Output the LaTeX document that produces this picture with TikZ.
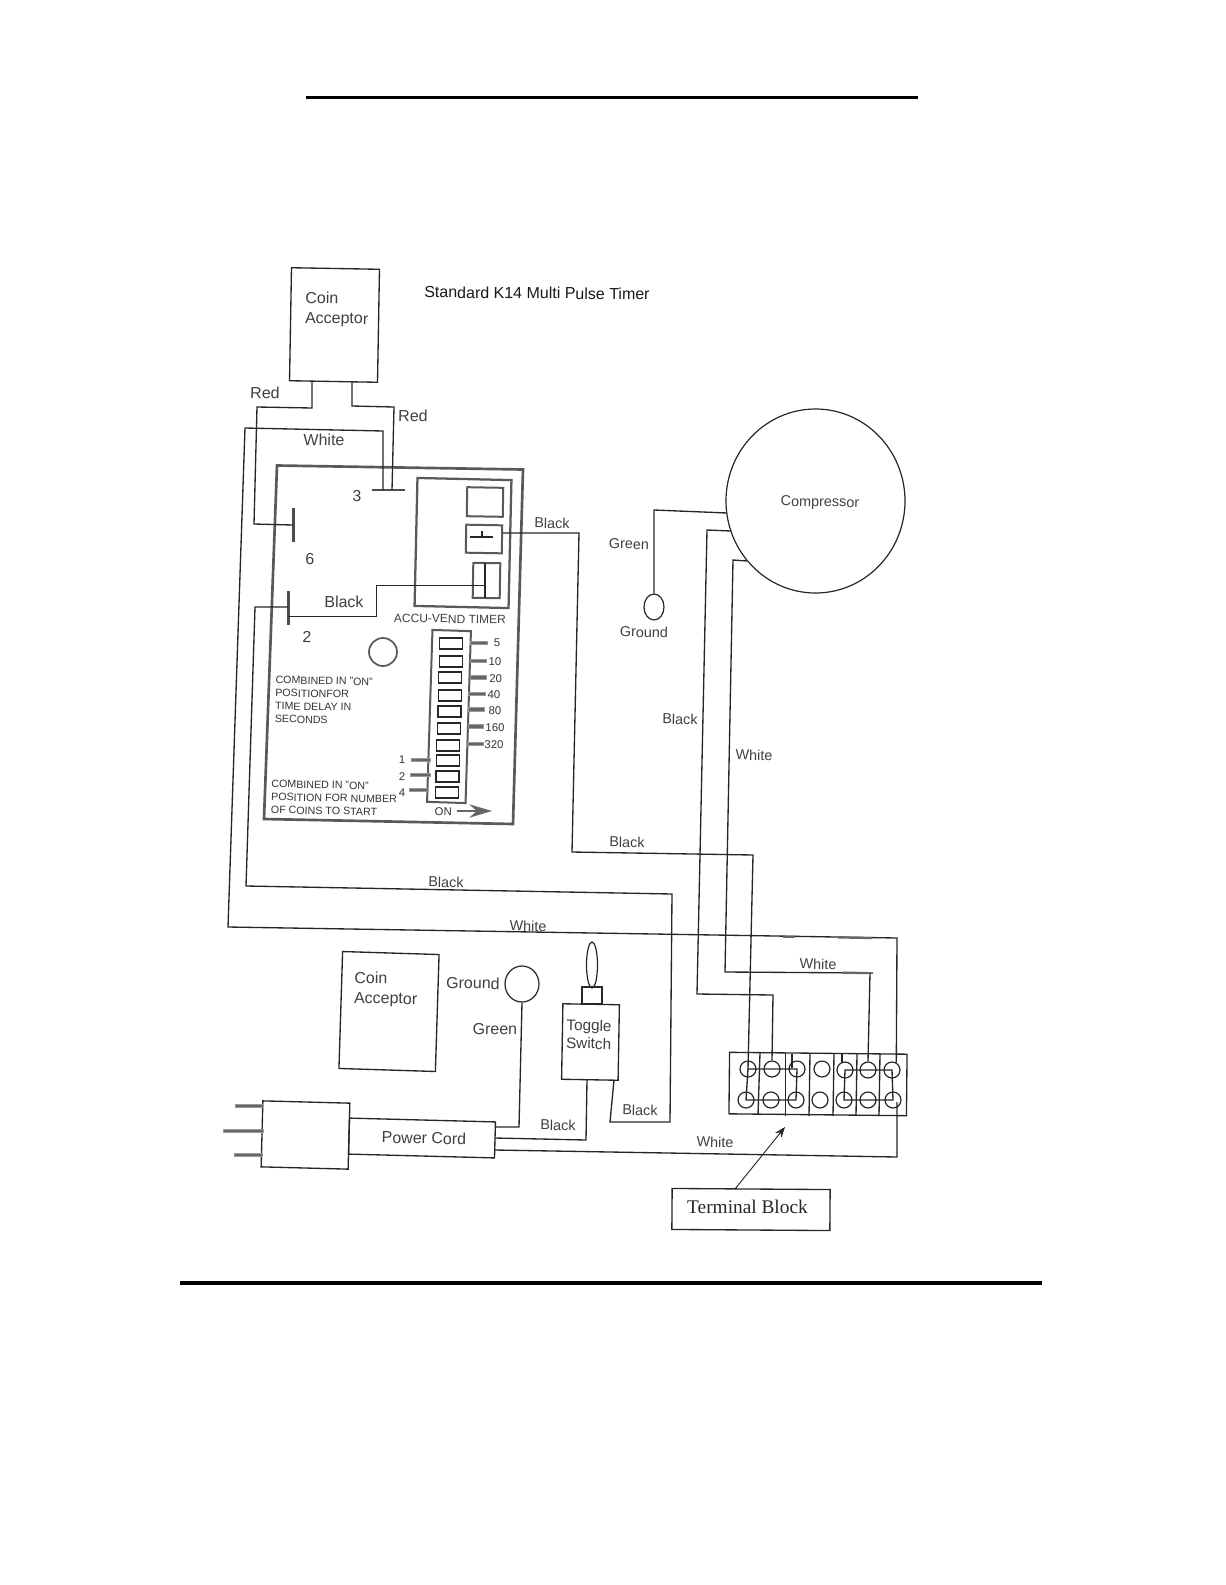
\documentclass[tikz,border=0pt]{standalone}
\usepackage{fontspec}
\setmainfont{Liberation Sans}
\newfontfamily\serifname{Liberation Serif}
\usetikzlibrary{shapes.geometric,arrows.meta}
\tikzset{
	sized/.style 2 args={minimum width=#1*0.75pt,minimum height=#2*0.75pt},
	part/.style={draw=black!85,rectangle,inner sep=0pt,line width=1pt},
	heavy/.style={draw=black!65,rectangle,inner sep=0pt,line width=2pt},
	round/.style={draw=black!85,ellipse,inner sep=0pt,line width=0.9pt},
	wire/.style={draw=black!85,line width=1pt},
	smudge/.style={draw=black!60,line width=1.7pt},
	tabbar/.style={draw=black!40,fill=black!60,rectangle,inner sep=0pt,line width=0.4pt},
	termbar/.style={fill=black!70,rectangle,inner sep=0pt},
	lbl/.style={text=black!75,inner sep=0pt,rotate=-1,font=\fontsize{12}{15}\selectfont,align=left},
	lblsmall/.style={text=black!75,inner sep=0pt,rotate=-1,font=\fontsize{10.8}{13}\selectfont},
	lbltiny/.style={text=black!80,inner sep=0pt,rotate=-1,font=\fontsize{8.5}{10}\selectfont},
	note/.style={text=black!80,inner sep=0pt,anchor=west,rotate=-1,align=left,font=\fontsize{8}{9.75}\selectfont}
}
\begin{document}
\begin{tikzpicture}[x=0.75pt,y=-0.75pt]
	\useasboundingbox (0,0) rectangle (1225,1585);
	\coordinate (RuleTL) at (306,97.5);
	\coordinate (RuleTR) at (918,97.5);
	\coordinate (RuleBL) at (180,1283);
	\coordinate (RuleBR) at (1042,1283);
	\draw[black,line width=2.4pt] (RuleTL) -- (RuleTR);
	\draw[black,line width=2.4pt] (RuleBL) -- (RuleBR);

	\node (Title) at (537,293)	[lbl, rotate=0.5, text=black!90]	{Standard K14 Multi Pulse Timer};

	\node (CoinA) at (334.5,325)	[part, sized={88}{113}, rotate=-1]	{};
	\node (CoinAtxt) at (305,309)	[lbl, anchor=west]	{Coin\\Acceptor};
	\node (CoinB) at (389,1011.5)	[part, sized={96.5}{117}, rotate=-1.8]	{};
	\node (CoinBtxt) at (354,989)	[lbl, anchor=west]	{Coin\\Acceptor};

	\coordinate (BoardTL) at (277,465.5);
	\coordinate (BoardTR) at (523,469.5);
	\coordinate (BoardBR) at (513,824);
	\coordinate (BoardBL) at (264,819);
	\draw[draw=black!65,line width=2pt] (BoardTL) -- (BoardTR) -- (BoardBR) -- (BoardBL) -- cycle;
	\node (Timer) at (463,543)	[heavy, sized={94}{128}, rotate=-1.3, line width=1.7pt]	{};
	\node (Relay1) at (485,502)	[heavy, sized={36}{29}, rotate=-1, line width=1.5pt]	{};
	\node (Relay2) at (484,539)	[heavy, sized={36}{28}, rotate=-1, line width=1.5pt]	{};
	\node (Relay3) at (486.5,580.5)	[heavy, sized={27}{35}, rotate=-1, line width=1.5pt]	{};
	\node (Hole) at (383,652)	[round, sized={28}{28}, draw=black!65, line width=1.3pt]	{};
	\node (Bar3) at (388,490)	[termbar, sized={33}{2.5}]	{};
	\node (Bar6) at (293,525)	[termbar, sized={3}{34}]	{};
	\node (Bar2) at (288,608)	[termbar, sized={3}{34}]	{};

	\node (N3) at (357,496)	[lbl]	{3};
	\node (N6) at (310,559)	[lbl]	{6};
	\node (N2) at (307,637)	[lbl]	{2};
	\node (Accu) at (450,619)	[lbl, font=\fontsize{9}{11}\selectfont]	{ACCU-VEND TIMER};

	\node (Dip) at (449,716.5)	[heavy, sized={38.5}{172}, rotate=-1.8, line width=1.5pt]	{};
	\node (S1) at (451.3,643.4)	[part, sized={23}{11}, line width=0.9pt]	{};
	\node (S2) at (450.8,661.4)	[part, sized={23}{11}, line width=0.9pt]	{};
	\node (S3) at (450.3,677.4)	[part, sized={23}{11}, line width=0.9pt]	{};
	\node (S4) at (450,695.4)	[part, sized={23}{11}, line width=0.9pt]	{};
	\node (S5) at (449.5,711.4)	[part, sized={23}{11}, line width=0.9pt]	{};
	\node (S6) at (449,728.4)	[part, sized={23}{11}, line width=0.9pt]	{};
	\node (S7) at (448.3,745.4)	[part, sized={23}{11}, line width=0.9pt]	{};
	\node (S8) at (448,760.4)	[part, sized={23}{11}, line width=0.9pt]	{};
	\node (S9) at (447.5,776.4)	[part, sized={23}{11}, line width=0.9pt]	{};
	\node (S10) at (447,792.4)	[part, sized={23}{11}, line width=0.9pt]	{};

	\node (Tab5) at (478.5,643)	[tabbar, sized={17}{3.5}]	{};
	\node (Tab10) at (478,661)	[tabbar, sized={16}{3.5}]	{};
	\node (Tab20) at (478,677.5)	[tabbar, sized={16}{3.5}]	{};
	\node (Tab40) at (477,694)	[tabbar, sized={17}{3.5}]	{};
	\node (Tab80) at (476.5,709.5)	[tabbar, sized={16}{3.5}]	{};
	\node (Tab160) at (475.5,726.5)	[tabbar, sized={15}{3.5}]	{};
	\node (Tab320) at (475,744)	[tabbar, sized={16}{3.5}]	{};
	\node (Tab1) at (420.5,760)	[tabbar, sized={19}{3.5}]	{};
	\node (Tab2) at (420,775)	[tabbar, sized={20}{3.5}]	{};
	\node (Tab4) at (418.5,790)	[tabbar, sized={19}{3.5}]	{};

	\node (L5) at (497,643)	[lbltiny]	{5};
	\node (L10) at (495,662)	[lbltiny]	{10};
	\node (L20) at (495.7,679)	[lbltiny]	{20};
	\node (L40) at (494,695)	[lbltiny]	{40};
	\node (L80) at (495,711)	[lbltiny]	{80};
	\node (L160) at (495,728)	[lbltiny]	{160};
	\node (L320) at (494,745)	[lbltiny]	{320};
	\node (L1) at (402,759.5)	[lbltiny]	{1};
	\node (L2) at (402,777)	[lbltiny]	{2};
	\node (L4) at (402,792.5)	[lbltiny]	{4};
	\node (LOn) at (443.3,812)	[lbltiny]	{ON};
	\coordinate (OnStart) at (457,811);
	\coordinate (OnEnd) at (492,811);
	\draw[draw=black!60,fill=black!60,line width=1.6pt,-{Stealth[length=17pt,width=10pt]}] (OnStart) -- (OnEnd);

	\node (Note1) at (275,699.5)	[note]	{COMBINED IN "ON"\\POSITIONFOR\\TIME DELAY IN\\SECONDS};
	\node (Note2) at (271,797)	[note]	{COMBINED IN "ON"\\POSITION FOR NUMBER\\OF COINS TO START};

	\node (Compressor) at (815.5,501)	[round, sized={179}{184}, label={[lblsmall, shift={(3.4pt,-1.5pt)}]center:Compressor}]	{};
	\node (Gnd1) at (654,607)	[round, sized={20}{26}]	{};
	\node (Gnd2) at (522,984)	[round, sized={34}{36}]	{};

	\node (Lever) at (592,965)	[round, sized={11}{46}]	{};
	\node (Neck) at (592,995.5)	[part, sized={20}{17}]	{};
	\node (Toggle) at (590.5,1042)	[part, sized={56.5}{75.5}, rotate=-1]	{};
	\node (Toggletxt) at (566,1034)	[lbl, anchor=west, font=\fontsize{11.5}{13.5}\selectfont]	{Toggle\\Switch};

	\node (Plug) at (305.5,1135)	[part, sized={87}{66}, rotate=-1.5]	{};
	\node (Cord) at (422,1138)	[part, sized={146}{36}, rotate=-1.5]	{};
	\node (Cordtxt) at (424,1138)	[lbl, font=\fontsize{12}{14}\selectfont]	{Power Cord};
	\node (Prong1) at (249,1106)	[tabbar, sized={28}{3.5}]	{};
	\node (Prong2) at (243,1131)	[tabbar, sized={40}{3.5}]	{};
	\node (Prong3) at (248,1155)	[tabbar, sized={28}{3.5}]	{};

	\node (Block) at (818,1084)	[part, sized={177.5}{61.5}, rotate=-0.6]	{};
	\coordinate (Dv1a) at (760,1053);
	\coordinate (Dv1b) at (758,1115);
	\coordinate (Dv2a) at (785.4,1053);
	\coordinate (Dv2b) at (785.4,1116);
	\coordinate (Dv3a) at (810,1054);
	\coordinate (Dv3b) at (809,1116);
	\coordinate (Dv4a) at (834,1054);
	\coordinate (Dv4b) at (833,1116);
	\coordinate (Dv5a) at (857,1054);
	\coordinate (Dv5b) at (856,1116);
	\coordinate (Dv6a) at (880,1054);
	\coordinate (Dv6b) at (879,1116);
	\draw[wire] (Dv1a) -- (Dv1b);
	\draw[wire] (Dv2a) -- (Dv2b);
	\draw[wire] (Dv3a) -- (Dv3b);
	\draw[wire] (Dv4a) -- (Dv4b);
	\draw[wire] (Dv5a) -- (Dv5b);
	\draw[wire] (Dv6a) -- (Dv6b);
	\node (T1) at (748,1069)	[round, sized={16}{16}]	{};
	\node (T2) at (772,1069)	[round, sized={16}{16}]	{};
	\node (T3) at (797,1069)	[round, sized={16}{16}]	{};
	\node (T4) at (822,1069)	[round, sized={16}{16}]	{};
	\node (T5) at (845,1070)	[round, sized={16}{16}]	{};
	\node (T6) at (868,1070)	[round, sized={16}{16}]	{};
	\node (T7) at (892,1070)	[round, sized={16}{16}]	{};
	\node (B1) at (746,1100)	[round, sized={16}{16}]	{};
	\node (B2) at (771,1100)	[round, sized={16}{16}]	{};
	\node (B3) at (796,1100)	[round, sized={16}{16}]	{};
	\node (B4) at (820,1100)	[round, sized={16}{16}]	{};
	\node (B5) at (844,1100)	[round, sized={16}{16}]	{};
	\node (B6) at (868,1100)	[round, sized={16}{16}]	{};
	\node (B7) at (893,1100)	[round, sized={16}{16}]	{};
	\draw[wire] (T1.center) -- (T3.center) -- (B3.center) -- (B1.center) -- cycle;
	\draw[wire] (T5.center) -- (T7.center) -- (B7.center) -- (B5.center) -- cycle;
	\coordinate (Stub3a) at (792,1054);
	\coordinate (Stub3b) at (792,1068);
	\coordinate (Stub5a) at (842,1053);
	\coordinate (Stub5b) at (842,1063);
	\draw[wire] (Stub3a) -- (Stub3b);
	\draw[wire] (Stub5a) -- (Stub5b);

	\node (TermBox) at (751,1209.5)	[part, sized={158}{41}, rotate=-0.4]	{};
	\node (Termtxt) at (747.5,1206.5)	[inner sep=0pt, text=black!85, font=\serifname\fontsize{14.5}{17}\selectfont]	{Terminal Block};
	\coordinate (ArrowTip) at (785,1127);
	\coordinate (ArrowTail) at (735,1189);
	\draw[wire, line width=0.7pt, -{Stealth[length=8pt,width=6pt]}] (ArrowTail) -- (ArrowTip);

	% wires from the coin acceptor
	\coordinate (RedL1) at (312,382);
	\coordinate (RedL2) at (312,408);
	\coordinate (RedL3) at (257,407);
	\coordinate (RedL4) at (254,524);
	\draw[wire] (RedL1) -- (RedL2) -- (RedL3) -- (RedL4) -- (Bar6.center);
	\coordinate (RedR1) at (352,382);
	\coordinate (RedR2) at (352,406);
	\coordinate (RedR3) at (394,407);
	\coordinate (RedR4) at (392,490);
	\draw[wire] (RedR1) -- (RedR2) -- (RedR3) -- (RedR4);
	\coordinate (WhA1) at (383,490);
	\coordinate (WhA2) at (383,431);
	\coordinate (WhA3) at (245,428);
	\coordinate (WhA4) at (228,927);
	\coordinate (WhA5) at (897,938);
	\draw[wire] (WhA1) -- (WhA2) -- (WhA3) -- (WhA4) -- (WhA5) -- (T7.60);
	\coordinate (MarkA1) at (783,936.6);
	\coordinate (MarkA2) at (795,936.8);
	\coordinate (MarkB1) at (838,937.4);
	\coordinate (MarkB2) at (872,938);
	\draw[smudge] (MarkA1) -- (MarkA2);
	\draw[smudge] (MarkB1) -- (MarkB2);

	% wires from the timer
	\coordinate (BkA1) at (503,533);
	\coordinate (BkA2) at (579,533);
	\coordinate (BkA3) at (572,852);
	\coordinate (BkA4) at (753,855);
	\draw[wire] (BkA1) -- (BkA2) -- (BkA3) -- (BkA4) -- (T1.center);
	\coordinate (RelayA) at (470,537);
	\coordinate (RelayB) at (493,537);
	\coordinate (RelayC) at (482,531);
	\coordinate (RelayD) at (482,537);
	\draw[wire] (RelayA) -- (RelayB);
	\draw[wire] (RelayC) -- (RelayD);
	\coordinate (RelayE) at (485,563);
	\coordinate (RelayF) at (485,598);
	\draw[wire] (RelayE) -- (RelayF);
	\coordinate (BkB1) at (485,585.4);
	\coordinate (BkB2) at (376.4,585.4);
	\coordinate (BkB3) at (376.4,616.4);
	\draw[wire] (BkB1) -- (BkB2) -- (BkB3) -- (Bar2.center |- BkB3);
	\coordinate (BkC1) at (288,607);
	\coordinate (BkC2) at (255,607);
	\coordinate (BkC3) at (246,886);
	\coordinate (BkC4) at (672,894);
	\coordinate (BkC5) at (670,1122);
	\coordinate (BkC6) at (610,1122);
	\coordinate (BkC7) at (614,1080);
	\draw[wire] (BkC1) -- (BkC2) -- (BkC3) -- (BkC4) -- (BkC5) -- (BkC6) -- (BkC7);

	% wires from the compressor
	\coordinate (GnA1) at (727,513);
	\coordinate (GnA2) at (654,510);
	\draw[wire] (GnA1) -- (GnA2) -- (Gnd1.north);
	\coordinate (BkD1) at (731,531);
	\coordinate (BkD2) at (707,530);
	\coordinate (BkD3) at (697,994);
	\coordinate (BkD4) at (773,995);
	\draw[wire] (BkD1) -- (BkD2) -- (BkD3) -- (BkD4) -- (T2.north);
	\coordinate (WhB1) at (747,561);
	\coordinate (WhB2) at (733,560);
	\coordinate (WhB3) at (725,972);
	\coordinate (WhB4) at (873,973);
	\coordinate (WhB5) at (870,973);
	\draw[wire] (WhB1) -- (WhB2) -- (WhB3) -- (WhB4);
	\draw[wire] (WhB5) -- (T6.north);
	\coordinate (MarkC1) at (842,972.7);
	\coordinate (MarkC2) at (868,973);
	\draw[smudge] (MarkC1) -- (MarkC2);

	% wires from the power cord
	\coordinate (GnB1) at (495,1127);
	\coordinate (GnB2) at (519,1127);
	\draw[wire] (Gnd2.south) -- (GnB2) -- (GnB1);
	\coordinate (BkE1) at (495,1138);
	\coordinate (BkE2) at (586,1140);
	\coordinate (BkE3) at (587,1080);
	\draw[wire] (BkE1) -- (BkE2) -- (BkE3);
	\coordinate (WhC1) at (495,1150);
	\coordinate (WhC2) at (897,1157);
	\coordinate (WhC3) at (897,1102);
	\draw[wire] (WhC1) -- (WhC2) -- (WhC3);

	\node (WRedL) at (265,393)	[lbl]	{Red};
	\node (WRedR) at (413,416)	[lbl]	{Red};
	\node (WWhiteA) at (324,440)	[lbl]	{White};
	\node (WBlackA) at (344,602)	[lbl]	{Black};
	\node (WBlackB) at (552,523)	[lblsmall]	{Black};
	\node (WGreenA) at (629,544)	[lblsmall]	{Green};
	\node (WGroundA) at (644,632)	[lblsmall]	{Ground};
	\node (WBlackC) at (680,719)	[lblsmall]	{Black};
	\node (WWhiteB) at (754,755)	[lblsmall]	{White};
	\node (WBlackD) at (627,842)	[lblsmall]	{Black};
	\node (WBlackE) at (446,882)	[lblsmall]	{Black};
	\node (WWhiteC) at (528,926)	[lblsmall]	{White};
	\node (WWhiteD) at (818,964)	[lblsmall]	{White};
	\node (WGroundB) at (473,983)	[lbl]	{Ground};
	\node (WGreenB) at (495,1029)	[lbl]	{Green};
	\node (WBlackF) at (640,1110)	[lblsmall]	{Black};
	\node (WBlackG) at (558,1125)	[lblsmall]	{Black};
	\node (WWhiteE) at (715,1142)	[lblsmall]	{White};
\end{tikzpicture}
\end{document}
